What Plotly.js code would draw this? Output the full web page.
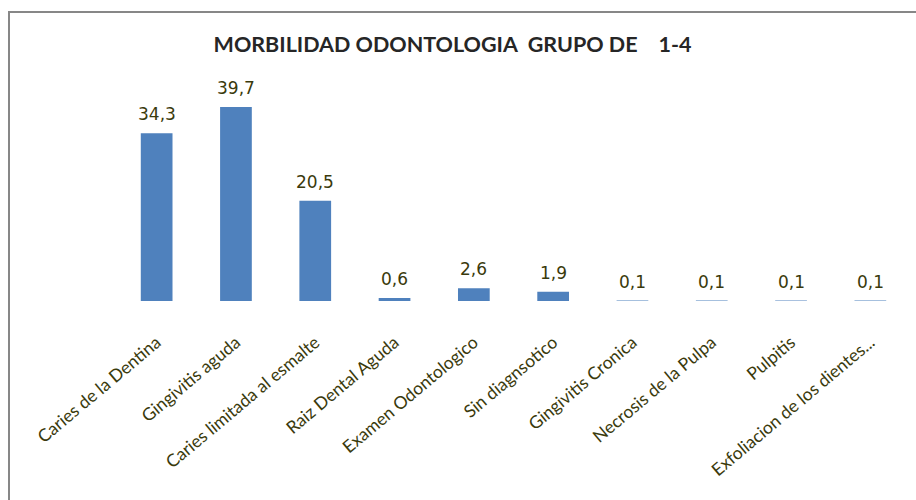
<!DOCTYPE html>
<html>
<head>
<meta charset="utf-8">
<script src="https://cdn.plot.ly/plotly-3.0.1.min.js"></script>
<style>
  html, body { margin: 0; padding: 0; background: #fff; }
  #wrap { position: relative; width: 916px; height: 500px; overflow: hidden; }
  #chart { width: 916px; height: 500px; }
  #frame { position: absolute; left: 8px; top: 11px; width: 950px; height: 550px;
           border-left: 2px solid #878787; border-top: 2px solid #878787; pointer-events: none; }
</style>
</head>
<body>
<div id="wrap">
  <div id="chart"></div>
  <div id="frame"></div>
</div>
<script>
const titleText = "MORBILIDAD ODONTOLOGIA\u00A0\u00A0GRUPO DE\u00A0\u00A0\u00A0\u00A01-4";
const categories = [
  "Caries de la Dentina",
  "Gingivitis aguda",
  "Caries limitada al esmalte",
  "Raiz Dental Aguda",
  "Examen Odontologico",
  "Sin diagnsotico",
  "Gingivitis Cronica",
  "Necrosis de la Pulpa",
  "Pulpitis",
  "Exfoliacion de los dientes..."
];
const values = [34.3, 39.7, 20.5, 0.6, 2.6, 1.9, 0.1, 0.1, 0.1, 0.1];

const textColor = "#3a3a0c";

const trace = {
  type: "bar",
  x: categories,
  y: values,
  marker: { color: "#4f81bd" },
  hoverinfo: "none"
};

const annotations = categories.map((c, i) => ({
  x: c,
  y: values[i],
  xref: "x",
  yref: "y",
  text: String(values[i]).replace(".", ","),
  showarrow: false,
  yanchor: "bottom",
  yshift: 7,
  font: { family: "DejaVu Sans", size: 17, color: textColor }
}));

const layout = {
  width: 916,
  height: 500,
  margin: { l: 117, r: 6, t: 81, b: 199 },
  paper_bgcolor: "#ffffff",
  plot_bgcolor: "#ffffff",
  showlegend: false,
  bargap: 0.6,
  title: {
    text: titleText,
    font: { family: "Lato", size: 21.5, color: "#262626", weight: "bold" },
    x: 0.494,
    xanchor: "center",
    xref: "container",
    y: 0.912,
    yanchor: "middle",
    yref: "container"
  },
  xaxis: {
    type: "category",
    showline: false,
    showgrid: false,
    zeroline: false,
    ticks: "",
    tickangle: -40,
    ticklabelstandoff: 27,
    tickfont: { family: "Lato", size: 17.5, color: textColor }
  },
  yaxis: {
    range: [0, 45],
    visible: false,
    showgrid: false,
    zeroline: false
  },
  annotations: annotations
};

Plotly.newPlot("chart", [trace], layout, { displayModeBar: false, staticPlot: true });
</script>
</body>
</html>
